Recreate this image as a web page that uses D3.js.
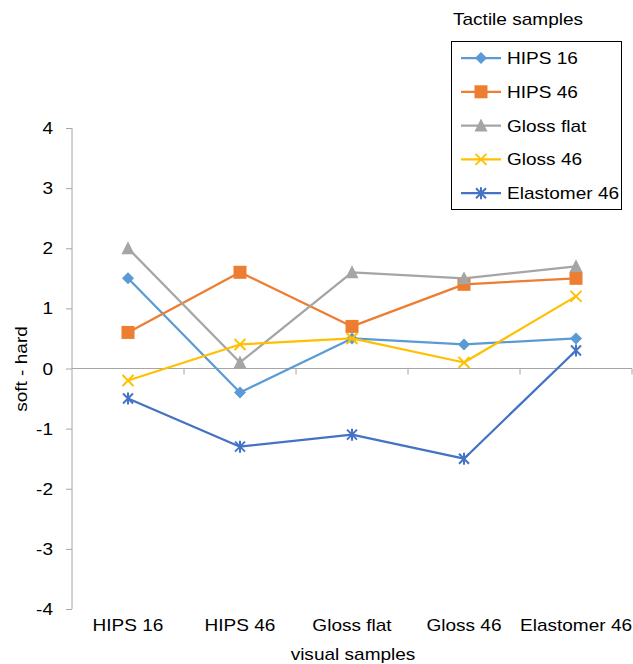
<!DOCTYPE html>
<html><head><meta charset="utf-8">
<script src="https://cdn.jsdelivr.net/npm/d3@7"></script>
<style>body{margin:0;background:#fff}svg{font-family:"Liberation Sans",Arial,sans-serif}</style>
</head><body><svg id="c" width="633" height="664"></svg>
<script>
const categories = ["HIPS 16","HIPS 46","Gloss flat","Gloss 46","Elastomer 46"];
const seriesNames = ["HIPS 16","HIPS 46","Gloss flat","Gloss 46","Elastomer 46"];
const hips16 = [1.5,-0.4,0.5,0.4,0.5];
const hips46 = [0.6,1.6,0.7,1.4,1.5];
const glossFlat = [2.0,0.1,1.6,1.5,1.7];
const gloss46 = [-0.2,0.4,0.5,0.1,1.2];
const elastomer46 = [-0.5,-1.3,-1.1,-1.5,0.3];
const yTicks = [-4,-3,-2,-1,0,1,2,3,4];
const colors = ["#5B9BD5","#ED7D31","#A5A5A5","#FFC000","#4472C4"];
const markers = ["diamond","square","triangle","x","star"];
const seriesValues = [hips16,hips46,glossFlat,gloss46,elastomer46];

const svg = d3.select("#c");
const x = d3.scaleBand().domain(categories).range([72,632]);
const y = d3.scaleLinear().domain([-4,4]).range([609,128]);
const axisColor = "#a6a6a6";
const FS = 17, SX = 1.12;

function txt(g, s, tx, ty, anchor, rot){
  return g.append("text")
    .attr("transform",`translate(${tx},${ty})${rot?` rotate(${rot})`:""} scale(${SX},1)`)
    .attr("text-anchor",anchor||"start").attr("font-size",FS).attr("fill","#000").text(s);
}

// y axis
const ya = svg.append("g").attr("transform","translate(72,0)")
  .call(d3.axisLeft(y).tickValues(yTicks).tickSize(6).tickFormat(""));
ya.select(".domain").attr("stroke",axisColor).attr("d","M0,128V609");
ya.selectAll(".tick line").attr("stroke",axisColor);
yTicks.forEach(t=>txt(svg, String(t), 53, y(t)+6, "end"));

// x axis at y=0
const xa = svg.append("g").attr("transform",`translate(0,${y(0)})`);
xa.append("line").attr("x1",72).attr("x2",632).attr("stroke",axisColor);
const bounds = categories.map(c=>x(c)).concat([x.range()[1]]).slice(1);
xa.selectAll(".tk").data(bounds).join("line").attr("x1",d=>d).attr("x2",d=>d)
  .attr("y1",0).attr("y2",6).attr("stroke",axisColor);
categories.forEach(c=>txt(svg, c, x(c)+x.bandwidth()/2, 631, "middle"));

txt(svg, "visual samples", 353, 660, "middle");
txt(svg, "soft - hard", 27, 369, "middle", -90);

function marker(g,type,color,cx,cy){
  if(type==="diamond"){
    g.append("path").attr("d",d3.symbol(d3.symbolSquare,72)()).attr("transform",`translate(${cx},${cy}) rotate(45)`).attr("fill",color);
  } else if(type==="square"){
    g.append("rect").attr("x",cx-6.5).attr("y",cy-6.5).attr("width",13).attr("height",13).attr("fill",color);
  } else if(type==="triangle"){
    g.append("path").attr("d",`M${cx},${cy-7}L${cx+6.5},${cy+6}L${cx-6.5},${cy+6}Z`).attr("fill",color);
  } else if(type==="x"){
    g.append("path").attr("d",`M${cx-5.5},${cy-5.5}L${cx+5.5},${cy+5.5}M${cx-5.5},${cy+5.5}L${cx+5.5},${cy-5.5}`).attr("stroke",color).attr("stroke-width",2);
  } else {
    g.append("path").attr("d",`M${cx-5},${cy-5}L${cx+5},${cy+5}M${cx-5},${cy+5}L${cx+5},${cy-5}M${cx},${cy-6}L${cx},${cy+6}`).attr("stroke",color).attr("stroke-width",2);
  }
}

const line = d3.line().x((d,i)=>x(categories[i])+x.bandwidth()/2).y(d=>y(d));
seriesValues.forEach((vals,si)=>{
  const g = svg.append("g");
  g.append("path").attr("d",line(vals)).attr("fill","none").attr("stroke",colors[si]).attr("stroke-width",2.25).attr("stroke-linejoin","round");
  vals.forEach((v,i)=>marker(g,markers[si],colors[si],x(categories[i])+x.bandwidth()/2,y(v)));
});

// legend
txt(svg, "Tactile samples", 453, 25, "start");
svg.append("rect").attr("x",451.5).attr("y",41.5).attr("width",170).attr("height",168).attr("fill","none").attr("stroke","#000").attr("stroke-width",1);
seriesNames.forEach((n,i)=>{
  const cy = 58 + i*33.8;
  const g = svg.append("g");
  g.append("line").attr("x1",461).attr("x2",501).attr("y1",cy).attr("y2",cy).attr("stroke",colors[i]).attr("stroke-width",2.25);
  marker(g,markers[i],colors[i],481,cy);
  txt(g, n, 507, cy+6, "start");
});
</script></body></html>
